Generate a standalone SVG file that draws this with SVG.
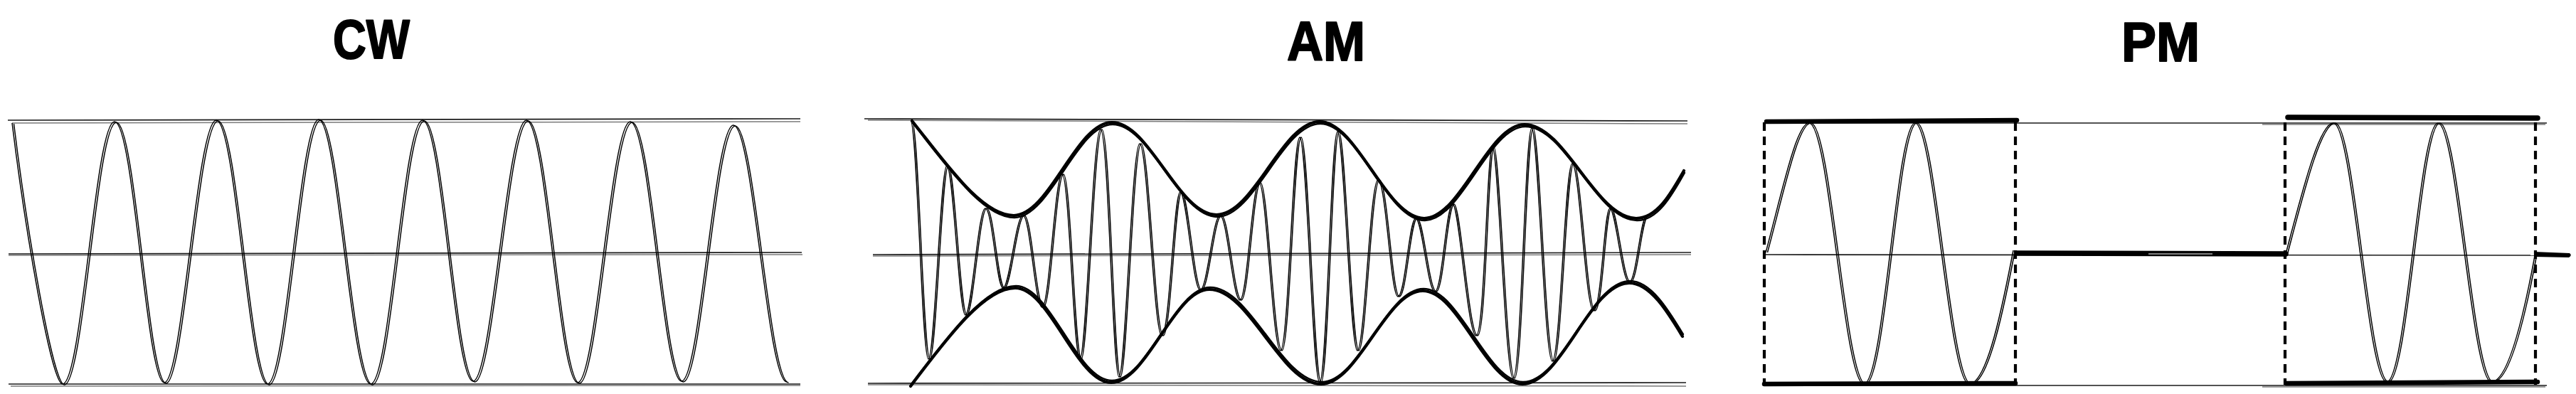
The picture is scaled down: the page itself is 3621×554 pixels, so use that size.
<svg xmlns="http://www.w3.org/2000/svg" xmlns:xlink="http://www.w3.org/1999/xlink" width="3621" height="554" viewBox="0 0 3621 554">
<style>
.bg{fill:#fff}
.axis{stroke:#1a1a1a;stroke-width:1.7;fill:none}
.axis2{stroke:#7a7a7a;stroke-width:1.5;fill:none}
.wave{stroke:#000;stroke-width:1.5;fill:none;stroke-linejoin:round}
.env{stroke:#000;stroke-width:4.2;fill:none;stroke-linecap:round}
.env2{stroke:#000;stroke-width:2.4;fill:none;stroke-linecap:round}
.brush{stroke:#000;stroke-width:6.5;stroke-linecap:round;fill:none}
.dash{stroke:#000;stroke-width:4.2;stroke-dasharray:12 8;fill:none}
.title{font-family:"Liberation Sans",Arial,sans-serif;font-weight:bold;font-size:78px;text-anchor:middle;fill:#000;stroke:#000;stroke-width:2;stroke-linejoin:round}
</style>
<defs>
<path id="cwWave" d="M17,173 C35,320 72,540 88,540 C115,540 134,171 161,171 S206,538 231,538 S277,169 304,169 S350,540 376,540 S422,168 448,168 S494,540 521,540 S567,169 594,169 S639,536 665,536 S713,169 740,169 S786,538 812,538 S859,171 886,171 S932,536 958,536 S1004,176 1031,176 S1079,537 1106,537"/>
<path id="amCarrier" d="M1280,170 C1289,170 1296,505 1305,505 S1322,233 1331,233 S1348,443 1357,443 S1375,293 1385,293 S1401,405 1410,405 S1428,303 1438,303 S1455,432 1465,432 S1483,245 1493,245 S1509,505 1518,505 S1536,182 1547,182 S1564,530 1573,530 S1591,202 1602,202 S1622,472 1633,472 S1650,270 1659,270 S1677,408 1687,408 S1705,303 1715,303 S1733,422 1743,422 S1760,257 1770,257 S1789,493 1800,493 S1817,193 1827,193 S1845,538 1855,538 S1871,185 1880,185 S1898,493 1908,493 S1926,253 1937,253 S1955,417 1965,417 S1981,307 1990,307 S2007,410 2017,410 S2033,287 2042,287 S2063,472 2075,472 S2090,207 2098,207 S2116,532 2127,532 S2144,180 2153,180 S2171,508 2182,508 S2200,230 2210,230 S2229,437 2240,437 S2255,293 2263,293 S2280,397 2290,397 S2306,303 2315,303"/>
<path id="amUpper" d="M1282,170 C1330,230 1380,303 1425,303 C1475,303 1513,172 1563,172 C1616,172 1656,302 1710,302 C1763,302 1802,171 1855,171 C1908,171 1948,307 2002,307 C2053,307 2092,175 2143,175 C2200,175 2243,307 2300,307 C2330,307 2350,270 2367,240"/>
<path id="amLower" d="M1280,543 C1335,470 1385,405 1427,405 C1476,405 1513,538 1562,538 C1612,538 1650,407 1700,407 C1757,407 1800,540 1857,540 C1909,540 1948,409 2000,409 C2051,409 2089,540 2140,540 C2195,540 2235,398 2290,398 C2320,398 2345,440 2365,473"/>
<path id="pmWave1" d="M2482,355 C2505,270 2525,173 2543,173 C2571,173 2592,540 2620,540 S2666,173 2692,173 S2740,540 2768,540 C2793,540 2815,430 2830,352"/>
<path id="pmWave2" d="M3213,357 C3236,270 3260,173 3280,173 C3307,173 3328,537 3355,537 S3401,173 3427,173 S3475,537 3502,537 C3527,537 3550,430 3563,360"/>
</defs>
<rect class="bg" x="0" y="0" width="3621" height="554"/>

<g id="title-cw"><text class="title" x="522" y="82" textLength="108" lengthAdjust="spacingAndGlyphs">CW</text></g>
<g id="title-am"><text class="title" x="1864" y="85" textLength="110" lengthAdjust="spacingAndGlyphs">AM</text></g>
<g id="title-pm"><text class="title" x="3037" y="86" textLength="110" lengthAdjust="spacingAndGlyphs">PM</text></g>

<g id="panel-cw">
<path class="axis" d="M11,169 L1125,167"/>
<path class="axis2" d="M17,173 L1125,171"/>
<path class="axis" d="M12,357 L1127,355"/>
<path class="axis2" d="M12,359 L1128,358"/>
<path class="axis" d="M12,540 L1125,540"/>
<path class="axis2" d="M15,543 L1125,542"/>
<use xlink:href="#cwWave" href="#cwWave" class="wave"/>
<use xlink:href="#cwWave" href="#cwWave" class="wave" transform="translate(2.5,1)"/>
</g>

<g id="panel-am">
<path class="axis" d="M1215,167 L2372,170"/>
<path class="axis2" d="M1220,169 L2372,174"/>
<path class="axis" d="M1227,358 L2377,355"/>
<path class="axis2" d="M1227,360 L2377,358"/>
<path class="axis" d="M1220,539 L2370,538"/>
<path class="axis2" d="M1220,541 L2370,543"/>
<use xlink:href="#amCarrier" href="#amCarrier" class="wave"/>
<use xlink:href="#amCarrier" href="#amCarrier" class="wave" transform="translate(2,0)"/>
<use xlink:href="#amUpper" href="#amUpper" class="env"/>
<use xlink:href="#amUpper" href="#amUpper" class="env2" transform="translate(1,3)"/>
<use xlink:href="#amLower" href="#amLower" class="env"/>
<use xlink:href="#amLower" href="#amLower" class="env2" transform="translate(1,-3)"/>
</g>

<g id="panel-pm">
<path class="axis" d="M2478,173 L3580,173"/>
<path class="axis2" d="M3180,175 L3578,175"/>
<path class="axis" d="M2480,358 L3575,359"/>
<path class="axis" d="M2478,542 L3580,542"/>
<path class="axis2" d="M3180,544 L3578,544"/>
<line class="dash" x1="2480" y1="172" x2="2480" y2="541"/>
<line class="dash" x1="2833" y1="172" x2="2833" y2="541"/>
<line class="dash" x1="3212" y1="172" x2="3212" y2="541"/>
<line class="dash" x1="3564" y1="172" x2="3564" y2="541"/>
<path class="brush" d="M2483,171 L2835,169"/>
<path class="brush" d="M3216,165 L3567,166" style="stroke-width:7.5"/>
<path class="brush" d="M2480,540 L2833,539"/>
<path class="brush" d="M3214,539 L3567,537"/>
<path class="brush" d="M2835,356 L3213,357" style="stroke-width:7.5"/>
<path d="M3020,357 L3110,357" style="stroke:#fff;stroke-width:1.2"/>
<path d="M3562,354 L3612,356 Q3616,359 3611,362 L3562,361 Z" fill="#000"/>
<use xlink:href="#pmWave1" href="#pmWave1" class="wave"/>
<use xlink:href="#pmWave1" href="#pmWave1" class="wave" transform="translate(2.5,0)"/>
<use xlink:href="#pmWave2" href="#pmWave2" class="wave"/>
<use xlink:href="#pmWave2" href="#pmWave2" class="wave" transform="translate(2.5,0)"/>
</g>
</svg>
